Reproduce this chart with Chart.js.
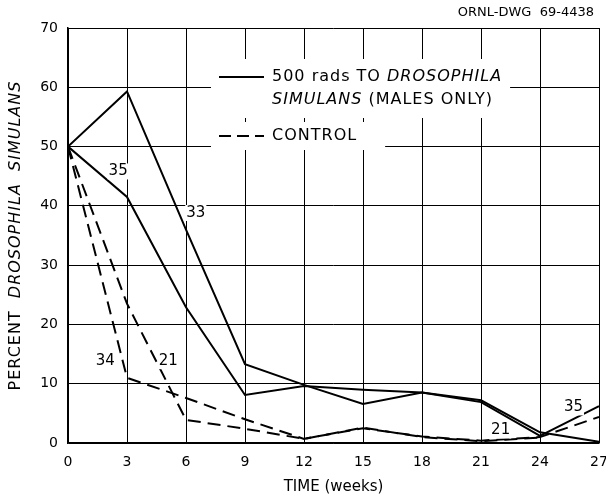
<!DOCTYPE html>
<html lang="en">
<head>
  <meta charset="UTF-8" />
  <title>Percent Drosophila simulans</title>
  <script src="https://cdn.jsdelivr.net/npm/chart.js@4.4.0/dist/chart.umd.min.js"></script>
  <style>
    body { margin: 0; background: #fff; }
    #wrap { width: 606px; height: 500px; }
  </style>
</head>
<body>
  <div id="wrap"><canvas id="chart" width="606" height="500"></canvas></div>

  <script>
    // time in weeks
    const weeks = [0, 3, 6, 9, 12, 15, 18, 21, 24, 27];
    // 500 rads, two population cages (solid)
    const rads33 = [50, 59.3, 36.0, 13.3, 9.8, 6.6, 8.5, 7.2, 1.8, 0.2];
    const rads35 = [50, 41.5, 22.9, 8.1, 9.6, 9.0, 8.5, 6.9, 1.2, 6.2];
    // controls (dashed)
    const control34 = [50, 11.0, 7.6, 4.0, 0.7, 2.5, 1.1, 0.4, 1.0, 4.4];
    const control21 = [50, 23.5, 3.9, 2.4, 0.7, 2.6, 1.0, 0.3, 0.9, null];

    // small numbers written next to the curves (week, percent)
    const noteText = ['35', '33', '34', '21', '21', '35'];
    const noteWeek = [2.55, 6.5, 1.9, 5.1, 22.0, 25.7];
    const notePct = [45.8, 38.8, 13.8, 13.8, 2.1, 6.0];

    const FONT = '"DejaVu Sans", Verdana, sans-serif';

    function toXY(ys) {
      return weeks.map((w, i) => ({ x: w, y: ys[i] }));
    }

    function lineSet(label, ys, dashed) {
      return {
        label: label,
        data: toXY(ys),
        borderColor: '#000',
        borderWidth: 2,
        borderDash: dashed ? [13, 7] : [],
        pointRadius: 0,
        tension: 0,
        fill: false,
        spanGaps: false
      };
    }

    // draws text made of normal and italic pieces, starting at x
    function drawRich(ctx, parts, x, y, size) {
      parts.forEach(p => {
        ctx.font = (p.it ? 'italic ' : '') + size + 'px ' + FONT;
        ctx.fillText(p.t, x, y);
        x += ctx.measureText(p.t).width;
      });
      return x;
    }
    function richWidth(ctx, parts, size) {
      let w = 0;
      parts.forEach(p => {
        ctx.font = (p.it ? 'italic ' : '') + size + 'px ' + FONT;
        w += ctx.measureText(p.t).width;
      });
      return w;
    }

    const extras = {
      id: 'extras',
      afterDatasetsDraw(chart) {
        const { ctx, chartArea: a, scales } = chart;
        ctx.save();
        ctx.fillStyle = '#000';
        ctx.strokeStyle = '#000';
        ctx.textBaseline = 'middle';
        ctx.letterSpacing = '1px';

        // legend with white backing that breaks the grid
        const size = 16;
        const lx = a.left + 151, tx = lx + 53;
        const y1 = a.top + 49, y2 = y1 + 23, y3 = y1 + 59;
        const line1 = [{ t: '500 rads TO ' }, { t: 'DROSOPHILA', it: true }];
        const line2 = [{ t: 'SIMULANS', it: true }, { t: ' (MALES ONLY)' }];
        const line3 = [{ t: 'CONTROL' }];
        const w12 = Math.max(richWidth(ctx, line1, size), richWidth(ctx, line2, size));
        const w3 = richWidth(ctx, line3, size);
        ctx.fillStyle = '#fff';
        ctx.fillRect(lx - 8, y1 - 18, tx - lx + w12 + 16, y2 - y1 + 36);
        ctx.fillRect(lx - 8, y3 - 14, tx - lx + w3 + 36, 28);
        ctx.fillStyle = '#000';
        ctx.lineWidth = 2;
        ctx.beginPath();
        ctx.moveTo(lx, y1); ctx.lineTo(lx + 45, y1);
        ctx.stroke();
        ctx.setLineDash([12, 6]);
        ctx.beginPath();
        ctx.moveTo(lx, y3); ctx.lineTo(lx + 45, y3);
        ctx.stroke();
        ctx.setLineDash([]);
        ctx.textAlign = 'left';
        drawRich(ctx, line1, tx, y1, size);
        drawRich(ctx, line2, tx, y2, size);
        drawRich(ctx, line3, tx, y3, size);

        // cage sizes next to the curves
        ctx.letterSpacing = '0px';
        ctx.font = '15px ' + FONT;
        ctx.textAlign = 'center';
        noteText.forEach((t, i) => {
          const px = scales.x.getPixelForValue(noteWeek[i]);
          const py = scales.y.getPixelForValue(notePct[i]);
          ctx.fillStyle = '#fff';
          const w = ctx.measureText(t).width;
          ctx.fillRect(px - w / 2 - 1, py - 8, w + 2, 16);
          ctx.fillStyle = '#000';
          ctx.fillText(t, px, py);
        });

        // y axis title, mixed italic
        ctx.letterSpacing = '1px';
        const ytitle = [{ t: 'PERCENT  ' }, { t: 'DROSOPHILA', it: true }, { t: '  ' }, { t: 'SIMULANS', it: true }];
        const tw = richWidth(ctx, ytitle, 16);
        ctx.translate(16, (a.top + a.bottom) / 2);
        ctx.rotate(-Math.PI / 2);
        ctx.textAlign = 'left';
        drawRich(ctx, ytitle, -tw / 2, 0, 16);
        ctx.restore();

        // drawing number at the top right
        ctx.save();
        ctx.font = '13px ' + FONT;
        ctx.textAlign = 'right';
        ctx.textBaseline = 'middle';
        ctx.fillStyle = '#000';
        ctx.fillText('ORNL-DWG  69-4438', 594, 13);
        ctx.restore();
      }
    };

    new Chart(document.getElementById('chart'), {
      type: 'line',
      data: {
        datasets: [
          lineSet('rads 33', rads33, false),
          lineSet('rads 35', rads35, false),
          lineSet('control 34', control34, true),
          lineSet('control 21', control21, true)
        ]
      },
      options: {
        responsive: false,
        animation: false,
        layout: { padding: { top: 28, right: 7, left: 0, bottom: 0 } },
        plugins: {
          legend: { display: false },
          tooltip: { enabled: false }
        },
        scales: {
          x: {
            type: 'linear',
            min: 0,
            max: 27,
            ticks: { stepSize: 3, color: '#000', font: { family: FONT, size: 14 }, padding: 11 },
            grid: { color: '#000', lineWidth: 1, drawTicks: false },
            border: { color: '#000', width: 1.5 },
            title: { display: true, text: 'TIME (weeks)', color: '#000', font: { family: FONT, size: 15 }, padding: { top: 4 } },
            afterFit(scale) {
              scale.height = 57;
              scale.paddingLeft = 0;
              scale.paddingRight = 0;
            }
          },
          y: {
            min: 0,
            max: 70,
            ticks: { stepSize: 10, color: '#000', font: { family: FONT, size: 14 }, padding: 10 },
            grid: { color: '#000', lineWidth: 1, drawTicks: false },
            border: { color: '#000', width: 1.5 },
            afterFit(scale) { scale.width = 68; }
          }
        }
      },
      plugins: [extras]
    });
  </script>
</body>
</html>
